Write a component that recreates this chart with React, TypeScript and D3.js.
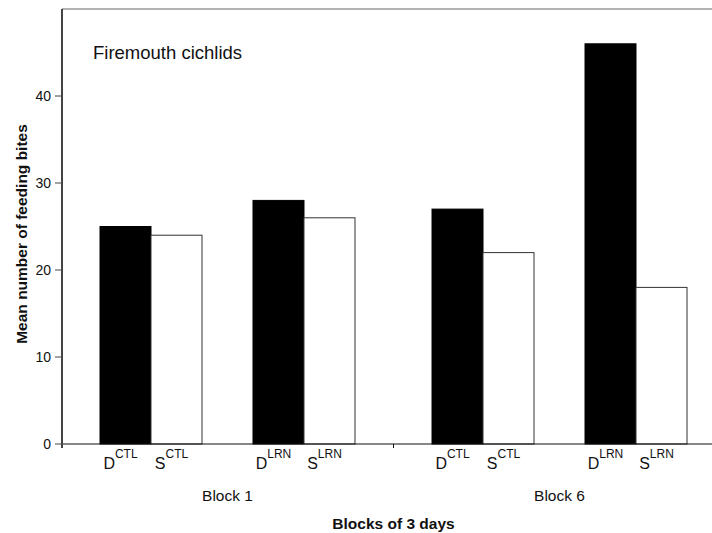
import React from "react";
import * as d3 from "d3";

const blocks = ["Block 1", "Block 6"];
const conditions = ["CTL", "LRN"];
const fishTypes = ["D", "S"];
// values[block][condition][fish]
const block1Values = [25, 24, 28, 26];
const block6Values = [27, 22, 46, 18];
const yTicks = [0, 10, 20, 30, 40];
const title = "Firemouth cichlids";
const yLabel = "Mean number of feeding bites";
const xLabel = "Blocks of 3 days";

const W = 712;
const H = 533;
const axisX = 62;
const y0 = 444;
const yTop = 9;
const FONT = "Arial, 'Liberation Sans', sans-serif";

export default function App() {
  const y = d3.scaleLinear().domain([0, 50]).range([y0, yTop]);
  const xBlock = d3.scaleBand<string>().domain(blocks).range([100, 687]).paddingInner(0.232).paddingOuter(0);
  const xCond = d3.scaleBand<string>().domain(conditions).range([0, xBlock.bandwidth()]).paddingInner(1 / 3).paddingOuter(0);
  const xFish = d3.scaleBand<string>().domain(fishTypes).range([0, xCond.bandwidth()]).padding(0);

  const allValues = [block1Values, block6Values];
  const bars: { block: string; cond: string; fish: string; value: number; x: number; w: number }[] = [];
  blocks.forEach((b, bi) => {
    conditions.forEach((c, ci) => {
      fishTypes.forEach((f, fi) => {
        const x = (xBlock(b) ?? 0) + (xCond(c) ?? 0) + (xFish(f) ?? 0);
        bars.push({ block: b, cond: c, fish: f, value: allValues[bi][ci * 2 + fi], x, w: xFish.bandwidth() });
      });
    });
  });

  const b1End = (xBlock(blocks[0]) ?? 0) + xBlock.bandwidth();
  const b6Start = xBlock(blocks[1]) ?? 0;
  const midTick = (b1End + b6Start) / 2;

  return (
    <svg width={W} height={H} style={{ position: "absolute", left: 0, top: 0, background: "#fff" }} fontFamily={FONT}>
      <rect x={0} y={0} width={W} height={H} fill="#fff" />
      {/* top frame line */}
      <line x1={axisX} x2={W} y1={yTop} y2={yTop} stroke="#999" strokeWidth={1.5} />
      {/* bars */}
      {bars.map((d, i) => (
        <rect
          key={i}
          x={d.x}
          y={y(d.value)}
          width={d.w}
          height={y(0) - y(d.value)}
          fill={d.fish === "D" ? "#000" : "#fff"}
          stroke={d.fish === "D" ? "#000" : "#333"}
          strokeWidth={1}
        />
      ))}
      {/* x axis */}
      <line x1={axisX} x2={W} y1={y0} y2={y0} stroke="#111" strokeWidth={1.2} />
      <line x1={midTick} x2={midTick} y1={y0} y2={y0 + 4} stroke="#111" strokeWidth={1} />
      {/* y axis */}
      <line x1={axisX} x2={axisX} y1={yTop} y2={y0 + 4} stroke="#444" strokeWidth={2} />
      {yTicks.map((t) => (
        <g key={t}>
          <line x1={axisX - 7} x2={axisX} y1={y(t)} y2={y(t)} stroke="#444" strokeWidth={1} />
          <text x={axisX - 11} y={y(t)} dy="0.36em" textAnchor="end" fontSize={14} fill="#111">
            {t}
          </text>
        </g>
      ))}
      {/* category labels */}
      {bars.map((d, i) => (
        <text key={"l" + i} x={d.x + d.w / 2 - 5} y={469} textAnchor="middle" fill="#111">
          <tspan fontSize={16}>{d.fish}</tspan>
          <tspan fontSize={12} dy={-11}>{d.cond}</tspan>
        </text>
      ))}
      {/* block labels */}
      {blocks.map((b) => (
        <text key={b} x={(xBlock(b) ?? 0) + xBlock.bandwidth() / 2} y={501} textAnchor="middle" fontSize={15.5} fill="#111">
          {b}
        </text>
      ))}
      {/* title */}
      <text x={93} y={59} fontSize={18.5} fill="#111">
        {title}
      </text>
      {/* axis titles */}
      <text transform={`translate(26.5,234) rotate(-90)`} textAnchor="middle" fontSize={15.5} fontWeight="bold" fill="#111">
        {yLabel}
      </text>
      <text x={midTick} y={529} textAnchor="middle" fontSize={15.5} fontWeight="bold" fill="#111">
        {xLabel}
      </text>
    </svg>
  );
}
